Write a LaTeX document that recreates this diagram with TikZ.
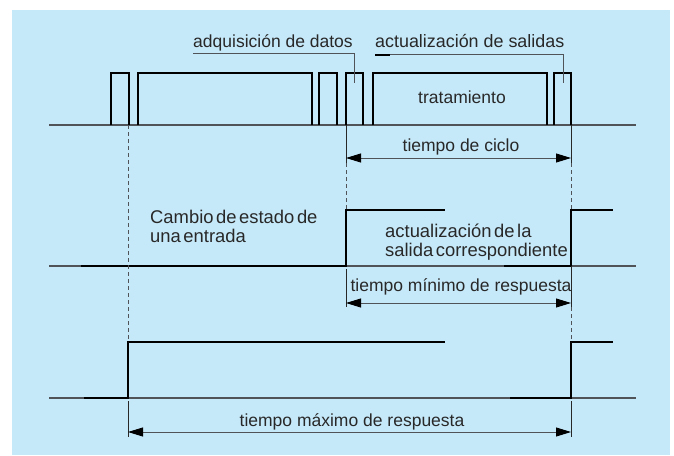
\documentclass[tikz,border=0pt]{standalone}
\usepackage{fontspec}
\setmainfont{Liberation Sans}
\usetikzlibrary{arrows.meta}
\definecolor{fondo}{RGB}{198,233,249}
\definecolor{gris}{RGB}{80,84,88}
\definecolor{texto}{RGB}{40,40,40}
\newcommand{\espaciado}{\spaceskip=0.14em plus 0.05em\relax}

\begin{document}
\begin{tikzpicture}[x=1pt, y=-1pt]
	% Estilos del cronograma
	\tikzset{
		senal/.style={line width=2.9pt, line join=miter},
		eje/.style={gris, line width=1.2pt},
		guia/.style={gris, line width=0.9pt, dash pattern=on 4pt off 3pt},
		marca/.style={texto, line width=0.9pt},
		punta/.tip={Triangle[length=15pt, width=9pt, fill=black, color=black]},
		cota/.style={gris, line width=0.9pt, punta-punta},
		lider/.style={gris, line width=0.8pt},
		etiqueta/.style={font=\fontsize{17.5}{19}\selectfont, text=texto, inner sep=0pt},
		rotulo/.style={font=\fontsize{18.4}{19}\selectfont\espaciado, text=texto, inner sep=0pt, align=left, anchor=base west}
	}
	
	% Fondo
	\useasboundingbox (0,0) rectangle (674,455);
	\fill[fondo] (12,10) rectangle (670,455);
	
	% Ciclo del automata (pulsos)
	\draw[eje] (49,125) -- (636,125);
	\foreach \a/\b in {111/129, 138/312, 319/337, 346/363, 373/547, 554/571}
		\draw[senal] (\a,125) |- (\b,73) -- (\b,125);
	\node[etiqueta] (trat) at (462,97) {tratamiento};
	
	% Rotulos con lineas de referencia
	\node[etiqueta, anchor=base west] (adq) at (193,47) {adquisición de datos};
	\node[etiqueta, anchor=base west, font=\fontsize{17.9}{19}\selectfont] (act) at (375,47) {actualización de salidas};
	\coordinate (adqL) at (193,53);
	\coordinate (adqP) at (354,83);
	\coordinate (actL) at (375,54);
	\coordinate (actP) at (563,83);
	\draw[lider] (adqL) -| (adqP);
	\draw[lider] (actL) -| (actP);
	\draw[line width=2.4pt] (actL) ++(0,1) -- ++(15,0);
	
	% Entrada
	\draw[eje] (49,266) -- (636,266);
	\draw[senal] (81,266) -- (346,266) |- (445,210);
	\draw[senal] (504,266) -- (571,266) |- (613,210);
	\node[rotulo] (cambio) at (150,242) {Cambio de estado de\\una entrada};
	\node[rotulo] (salida) at (385,256) {actualización de la\\salida correspondiente};
	
	% Salida
	\draw[eje] (49,398) -- (636,398);
	\draw[senal] (84,398) -- (128,398) |- (445,342);
	\draw[senal] (510,398) -- (571,398) |- (613,342);
	
	% Lineas de referencia verticales
	\draw[guia] (128,125) -- (128,342);
	\draw[guia] (346,163) -- (346,210);
	\draw[guia] (571,163) -- (571,210);
	\draw[guia] (571,307) -- (571,342);
	\draw[marca] (346,125) -- (346,163);
	\draw[marca] (571,125) -- (571,163);
	\draw[marca] (346,269) -- (346,307);
	\draw[marca] (571,266) -- (571,307);
	\draw[marca] (128,401) -- (128,437);
	\draw[marca] (571,401) -- (571,437);
	
	% Cotas de tiempo
	\coordinate (cicloA) at (346,158);
	\coordinate (cicloB) at (571,158);
	\coordinate (tminA) at (346,303);
	\coordinate (tminB) at (571,303);
	\coordinate (tmaxA) at (128,432);
	\coordinate (tmaxB) at (571,432);
	\draw[cota] (cicloA) -- (cicloB);
	\draw[cota] (tminA) -- (tminB);
	\draw[cota] (tmaxA) -- (tmaxB);
	\node[etiqueta, anchor=base] (ciclo) at (461,151) {tiempo de ciclo};
	\node[etiqueta, anchor=base] (tmin) at (461,291) {tiempo mínimo de respuesta};
	\node[etiqueta, anchor=base] (tmax) at (352,426) {tiempo máximo de respuesta};
	
\end{tikzpicture}
\end{document}
